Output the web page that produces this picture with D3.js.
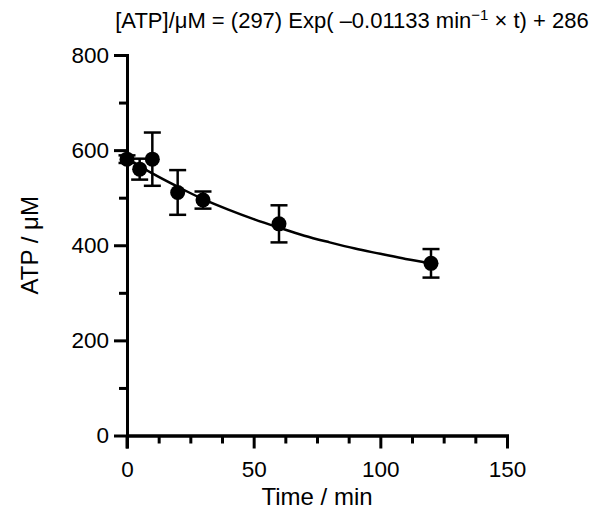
<!DOCTYPE html>
<html><head><meta charset="utf-8">
<script src="https://cdn.jsdelivr.net/npm/d3@7"></script>
<style>body{margin:0;background:#fff}text{font-family:"Liberation Sans",Arial,sans-serif;fill:#000}</style>
</head><body><svg id="c" width="595" height="516"></svg>
<script>
const times = [0, 5, 10, 20, 30, 60, 120];
const atp = [581, 560, 581, 511, 495, 445, 362];
const errs = [8, 22, 56, 47, 18, 39, 30];
const fitTimes = [0, 10, 20, 30, 40, 50, 60, 70, 80, 90, 100, 110, 120];
const fitValues = [583, 551, 523, 497, 475, 455, 437, 420, 406, 393, 382, 371, 362];
const xTicks = [0, 50, 100, 150];
const yTicks = [0, 200, 400, 600, 800];

const svg = d3.select("#c");
const x = d3.scaleLinear().domain([0, 150]).range([127, 507]);
const y = d3.scaleLinear().domain([0, 800]).range([435.5, 55]);
const FONT = '"Liberation Sans",Arial,sans-serif';

// axes
const xa = svg.append("g").attr("transform", `translate(0,${y(0)})`)
  .call(d3.axisBottom(x).tickValues(xTicks).tickSize(13).tickPadding(13).tickSizeOuter(0));
const xm = svg.append("g").attr("transform", `translate(0,${y(0)})`)
  .call(d3.axisBottom(x).tickValues(d3.range(12.5, 150, 12.5).filter(v => v % 50 !== 0)).tickSize(8).tickFormat("").tickSizeOuter(0));
const ya = svg.append("g").attr("transform", `translate(${x(0)},0)`)
  .call(d3.axisLeft(y).tickValues(yTicks).tickSize(13).tickPadding(5).tickSizeOuter(0));
const ym = svg.append("g").attr("transform", `translate(${x(0)},0)`)
  .call(d3.axisLeft(y).tickValues([100, 300, 500, 700]).tickSize(8).tickFormat("").tickSizeOuter(0));
[xa, xm, ya, ym].forEach(g => {
  g.selectAll(".domain").attr("stroke", "#000").attr("stroke-width", 3).attr("stroke-linecap", "square");
  g.selectAll(".tick line").attr("stroke", "#000").attr("stroke-width", 3);
  g.selectAll(".tick text").style("font-size", "22.5px").attr("fill", "#000").style("font-family", FONT);
});
svg.append("line").attr("x1", x(0)).attr("x2", x(0)).attr("y1", y(0)).attr("y2", y(0) + 13).attr("stroke", "#000").attr("stroke-width", 3);

// fitted curve
const line = d3.line().x((d, i) => x(fitTimes[i])).y(d => y(d)).curve(d3.curveMonotoneX);
svg.append("path").datum(fitValues).attr("d", line).attr("fill", "none").attr("stroke", "#000").attr("stroke-width", 2.5);

// error bars
const eb = svg.append("g").selectAll("g").data(times).join("g");
eb.append("line").attr("x1", d => x(d)).attr("x2", d => x(d))
  .attr("y1", (d, i) => y(atp[i] + errs[i])).attr("y2", (d, i) => y(atp[i] - errs[i]))
  .attr("stroke", "#000").attr("stroke-width", 2.5);
[1, -1].forEach(s => {
  eb.append("line").attr("x1", d => x(d) - 8.5).attr("x2", d => x(d) + 8.5)
    .attr("y1", (d, i) => y(atp[i] + s * errs[i])).attr("y2", (d, i) => y(atp[i] + s * errs[i]))
    .attr("stroke", "#000").attr("stroke-width", 2.5);
});
// markers
svg.append("g").selectAll("circle").data(times).join("circle")
  .attr("cx", d => x(d)).attr("cy", (d, i) => y(atp[i])).attr("r", 7.5).attr("fill", "#000");

// titles
const t = svg.append("text").attr("x", 352).attr("y", 28).attr("text-anchor", "middle").style("font-size", "22px");
t.append("tspan").text("[ATP]/μM = (297) Exp( –0.01133 min");
t.append("tspan").attr("dy", -8).style("font-size", "15px").text("−1");
t.append("tspan").attr("dy", 8).text(" × t) + 286");

svg.append("text").attr("x", x(75)).attr("y", 505).attr("text-anchor", "middle").style("font-size", "24px").text("Time / min");
svg.append("text").attr("transform", `translate(38,${y(400)}) rotate(-90)`).attr("text-anchor", "middle").style("font-size", "24px").text("ATP / μM");
</script></body></html>
